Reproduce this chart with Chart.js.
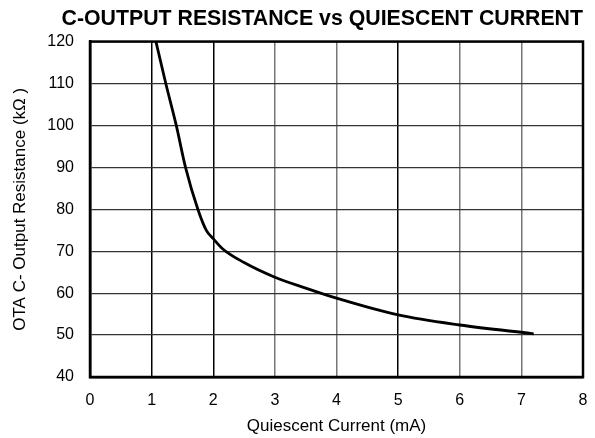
<!DOCTYPE html>
<html>
<head>
<meta charset="utf-8">
<script src="https://cdn.jsdelivr.net/npm/chart.js@4.4.0/dist/chart.umd.min.js"></script>
<style>
  html, body { margin: 0; padding: 0; background: #fff; }
  #wrap { width: 595px; height: 438px; }
</style>
</head>
<body>
<div id="wrap"><canvas id="chart" width="595" height="438"></canvas></div>
<script>
"use strict";

// quiescent current (mA) vs C- output resistance (kOhm)
var currentMA = [1.07, 1.23, 1.40, 1.55, 1.75, 1.89, 2.0, 2.15, 2.5, 3.0, 3.5, 4.0, 5.0, 6.0, 7.2];
var resistanceK = [120, 110, 100, 90, 80, 74.9, 73, 70.6, 67.3, 63.8, 61.2, 58.8, 54.8, 52.4, 50.3];
var xTicks = [0, 1, 2, 3, 4, 5, 6, 7, 8];
var yTicks = [40, 50, 60, 70, 80, 90, 100, 110, 120];

var points = currentMA.map(function (x, i) { return { x: x, y: resistanceK[i] }; });
var FONT = "'Liberation Sans', Arial, Helvetica, sans-serif";

new Chart(document.getElementById("chart"), {
	type: "line",
	data: {
		datasets: [{
			data: points,
			borderColor: "#000",
			borderWidth: 2.8,
			pointRadius: 0,
			fill: false,
			cubicInterpolationMode: "monotone"
		}]
	},
	options: {
		responsive: false,
		animation: false,
		layout: { padding: { left: 0, right: 12, top: 0, bottom: 0 } },
		plugins: {
			legend: { display: false },
			tooltip: { enabled: false },
			title: {
				display: true,
				text: "C-OUTPUT RESISTANCE vs QUIESCENT CURRENT",
				align: "end",
				color: "#000",
				font: { family: FONT, size: 21.3, weight: "bold" },
				padding: { top: 6, bottom: 10 }
			}
		},
		scales: {
			x: {
				type: "linear",
				min: 0,
				max: 8,
				afterBuildTicks: function (axis) { axis.ticks = xTicks.map(function (v) { return { value: v }; }); },
				afterFit: function (axis) {
					axis.height = 61;
					axis.paddingLeft = 0;
					axis.paddingRight = 0;
				},
				grid: {
					color: function (ctx) {
						var v = ctx.tick && ctx.tick.value;
						return (v === 1 || v === 2 || v === 5) ? "#000" : "#777";
					},
					lineWidth: 1.5,
					drawTicks: false
				},
				border: { color: "#000", width: 2.5 },
				ticks: { color: "#000", font: { family: FONT, size: 16 }, padding: 14 },
				title: {
					display: true,
					text: "Quiescent Current (mA)",
					color: "#000",
					font: { family: FONT, size: 17 },
					padding: { top: 0, bottom: 1 }
				}
			},
			y: {
				type: "linear",
				min: 40,
				max: 120,
				afterBuildTicks: function (axis) { axis.ticks = yTicks.map(function (v) { return { value: v }; }); },
				afterFit: function (axis) { axis.width = 90; },
				grid: { color: "#333", lineWidth: 1.2, drawTicks: false },
				border: { color: "#000", width: 2.5 },
				ticks: { color: "#000", font: { family: FONT, size: 16 }, padding: 16 },
				title: {
					display: true,
					text: "OTA C- Output Resistance (kΩ )",
					color: "#000",
					font: { family: FONT, size: 17 },
					padding: { top: 10, bottom: 0 }
				}
			}
		}
	},
	plugins: [{
		id: "frame",
		afterDraw: function (chart) {
			var a = chart.chartArea, c = chart.ctx;
			c.save();
			c.strokeStyle = "#000";
			c.lineWidth = 2.5;
			c.strokeRect(a.left, a.top, a.right - a.left, a.bottom - a.top);
			c.restore();
		}
	}]
});
</script>
</body>
</html>
